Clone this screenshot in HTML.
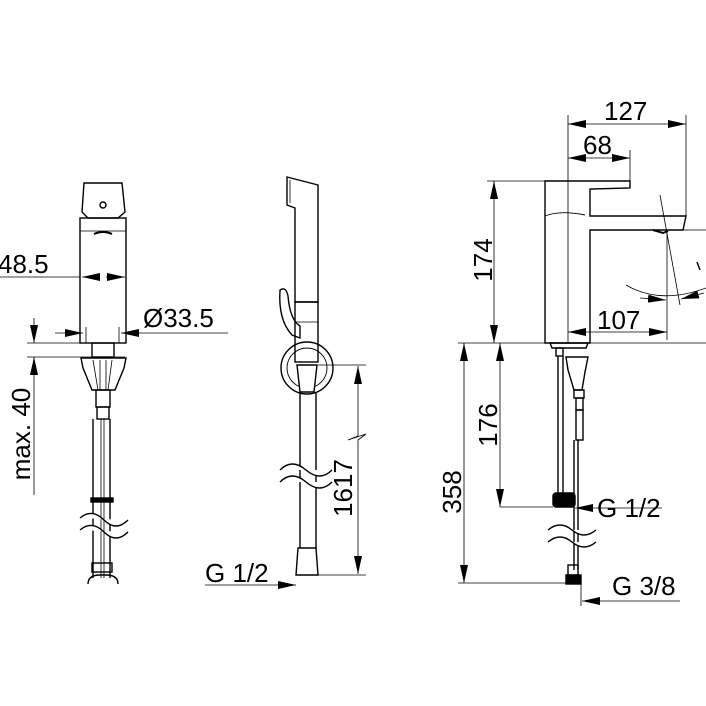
<!DOCTYPE html>
<html><head><meta charset="utf-8"><style>
html,body{margin:0;padding:0;background:#fff;}
svg{display:block;}
text{font-family:"Liberation Sans",sans-serif;fill:#000;}
</style></head><body>
<svg width="706" height="706" viewBox="0 0 706 706" xmlns="http://www.w3.org/2000/svg">
<defs>
<marker id="a" viewBox="0 0 18 8" refX="18" refY="4" markerWidth="18" markerHeight="8" markerUnits="userSpaceOnUse" orient="auto-start-reverse"><path d="M0,0L18,4L0,8z" fill="#000"/></marker>
</defs>
<g fill="none" stroke="#000" stroke-width="1.4">
<!-- LEFT faucet -->
<path d="M84,183 L122,183 L125,212 L118,218 L88,218 L82,212 Z"/>
<circle cx="103" cy="205" r="3"/>
<rect x="80" y="218" width="46" height="125"/>
<line x1="80" y1="231" x2="126" y2="231" stroke-width="0.8"/>
<path d="M94,234 Q103,230 112,234" stroke-width="2"/>
<line x1="0" y1="277" x2="80" y2="277" stroke-width="0.8"/>
<line x1="100" y1="277" x2="82" y2="277" marker-end="url(#a)" stroke-width="0.8"/>
<line x1="106" y1="277" x2="125" y2="277" marker-end="url(#a)" stroke-width="0.8"/>
<line x1="55" y1="333" x2="83" y2="333" marker-end="url(#a)" stroke-width="0.8"/>
<line x1="228" y1="333" x2="121" y2="333" marker-end="url(#a)" stroke-width="0.8"/>
<line x1="86" y1="327" x2="86" y2="343" stroke-width="0.8"/>
<line x1="119" y1="327" x2="119" y2="343" stroke-width="0.8"/>
<rect x="92" y="343" width="22" height="14"/>
<line x1="27" y1="343" x2="80" y2="343" stroke-width="0.8"/>
<line x1="27" y1="357" x2="125" y2="357" stroke-width="0.8"/>
<line x1="34" y1="318" x2="34" y2="343" marker-end="url(#a)" stroke-width="0.8"/>
<line x1="34" y1="495" x2="34" y2="357" marker-end="url(#a)" stroke-width="0.8"/>
<path d="M81,358 L126,358 L124,368 L115,390 L92,390 L83,368 Z"/>
<path d="M93,360 L98,390 M112,360 L108,390 M100,360 L100,390 M106,360 L106,390" stroke-width="0.8"/>
<rect x="96" y="390" width="14" height="17"/>
<rect x="97" y="407" width="12" height="12"/>
<line x1="93" y1="419" x2="93" y2="578"/><line x1="110" y1="419" x2="110" y2="578"/>
<line x1="101" y1="419" x2="101" y2="578" stroke-width="0.8"/><line x1="104" y1="419" x2="104" y2="578" stroke-width="0.8"/>
<rect x="91" y="498" width="22" height="4" fill="#000"/>
<path d="M80,518 Q92,508 104,520 Q116,532 128,520 M80,530 Q92,520 104,532 Q116,544 128,532" fill="#fff"/>
<rect x="92" y="563" width="20" height="9"/>
<path d="M88,584 Q88,575 100,575 L106,575 Q118,575 118,584"/>
<!-- MIDDLE hand shower -->
<path d="M287,177 L318,185 L318,302 L295,302 L295,208 L287,205 Z"/>
<line x1="290" y1="180" x2="290" y2="203" stroke-width="0.8"/>
<rect x="295" y="302" width="23" height="60"/>
<line x1="295" y1="322" x2="318" y2="322" stroke-width="0.8"/>
<path d="M280,290 Q278,320 292,335 L300,338 L300,326 Q290,320 288,296 Q286,286 280,290 Z"/>
<circle cx="307" cy="368" r="26"/>
<circle cx="307" cy="368" r="20" stroke-width="0.9"/>
<path d="M297,365 L317,365 L314,392 L300,392 Z" fill="#fff"/>
<line x1="300" y1="392" x2="300" y2="548"/><line x1="316" y1="392" x2="316" y2="548"/>
<path d="M280,470 Q292,458 306,470 Q320,482 332,470 M280,482 Q292,470 306,482 Q320,494 332,482" fill="#fff"/>
<path d="M298,548 L316,548 L318,575 L296,575 Z"/>
<line x1="318" y1="365" x2="366" y2="365" stroke-width="0.8"/>
<line x1="318" y1="575" x2="366" y2="575" stroke-width="0.8"/>
<path d="M358,420 L358,436 L348,440 L366,434 L358,440 L358,448" stroke-width="0.8"/>
<line x1="358" y1="420" x2="358" y2="366" marker-end="url(#a)" stroke-width="0.8"/>
<line x1="358" y1="448" x2="358" y2="574" marker-end="url(#a)" stroke-width="0.8"/>
<line x1="205" y1="585" x2="296" y2="585" marker-end="url(#a)" stroke-width="0.8"/>
<!-- RIGHT faucet -->
<path d="M545,181 L630,181 L630,188 L590,189 L590,216 L686,216 L683,230 L590,230 L590,343 L545,343 Z"/>
<path d="M545,216 Q560,210 585,215" stroke-width="0.9"/>
<path d="M653,230 L663,233 L668,231" stroke-width="2"/>
<line x1="568" y1="115" x2="568" y2="343" stroke-width="0.8"/>
<line x1="686" y1="115" x2="686" y2="216" stroke-width="0.8"/>
<line x1="630" y1="150" x2="630" y2="181" stroke-width="0.8"/>
<line x1="568" y1="124" x2="686" y2="124" marker-start="url(#a)" marker-end="url(#a)" stroke-width="0.8"/>
<line x1="568" y1="158" x2="630" y2="158" marker-start="url(#a)" marker-end="url(#a)" stroke-width="0.8"/>
<line x1="487" y1="181" x2="545" y2="181" stroke-width="0.8"/>
<line x1="494" y1="181" x2="494" y2="343" marker-start="url(#a)" marker-end="url(#a)" stroke-width="0.8"/>
<line x1="667" y1="232" x2="667" y2="340" stroke-width="0.8"/>
<line x1="660" y1="195" x2="680" y2="305" stroke-width="0.8"/>
<line x1="670" y1="230" x2="706" y2="230" stroke-width="0.8"/>
<path d="M626,285 Q660,305 706,288" stroke-width="0.8"/>
<line x1="640" y1="298" x2="666" y2="300" marker-end="url(#a)" stroke-width="0.8"/>
<line x1="704" y1="293" x2="681" y2="299" marker-end="url(#a)" stroke-width="0.8"/>
<line x1="697" y1="262" x2="700" y2="270" stroke-width="1.5"/>
<line x1="568" y1="332" x2="667" y2="332" marker-start="url(#a)" marker-end="url(#a)" stroke-width="0.8"/>
<line x1="458" y1="343" x2="706" y2="343" stroke-width="0.8"/>
<path d="M550,343 L588,343 L586,348 L552,348 Z"/>
<rect x="556" y="348" width="7" height="8"/>
<line x1="558" y1="356" x2="558" y2="493"/><line x1="563" y1="356" x2="563" y2="493"/>
<path d="M566,357 L588,357 L585,372 L582,390 L574,390 L568,370 Z"/>
<rect x="574" y="390" width="10" height="8"/>
<rect x="576" y="398" width="7" height="12"/>
<rect x="576" y="410" width="7" height="30"/>
<line x1="574" y1="440" x2="574" y2="570"/><line x1="578" y1="440" x2="578" y2="570"/>
<rect x="553" y="493" width="22" height="14" rx="3" fill="#000"/>
<line x1="500" y1="507" x2="553" y2="507" stroke-width="0.8"/>
<line x1="500" y1="343" x2="500" y2="507" marker-start="url(#a)" marker-end="url(#a)" stroke-width="0.8"/>
<line x1="662" y1="508" x2="575" y2="508" marker-end="url(#a)" stroke-width="0.8"/>
<path d="M548,530 Q560,520 572,530 Q584,540 596,530 M548,542 Q560,532 572,542 Q584,552 596,542" fill="#fff"/>
<rect x="568" y="565" width="10" height="10"/>
<rect x="566" y="575" width="15" height="9" fill="#000"/>
<line x1="458" y1="583" x2="566" y2="583" stroke-width="0.8"/>
<line x1="464" y1="343" x2="464" y2="583" marker-start="url(#a)" marker-end="url(#a)" stroke-width="0.8"/>
<line x1="581" y1="584" x2="581" y2="606" stroke-width="0.8"/>
<line x1="680" y1="601" x2="582" y2="601" marker-end="url(#a)" stroke-width="0.8"/>
</g>
<g font-size="26">
<text x="-2" y="273">48.5</text>
<text x="143" y="327">Ø33.5</text>
<text transform="translate(30,434) rotate(-90)" text-anchor="middle">max. 40</text>
<text transform="translate(352,488) rotate(-90)" text-anchor="middle">1617</text>
<text x="205" y="582">G 1/2</text>
<text x="604" y="120">127</text>
<text x="583" y="154">68</text>
<text transform="translate(492,260) rotate(-90)" text-anchor="middle">174</text>
<text x="597" y="329">107</text>
<text transform="translate(497,425) rotate(-90)" text-anchor="middle">176</text>
<text transform="translate(461,492) rotate(-90)" text-anchor="middle">358</text>
<text x="597" y="517">G 1/2</text>
<text x="612" y="595">G 3/8</text>
</g>
</svg>
</body></html>
